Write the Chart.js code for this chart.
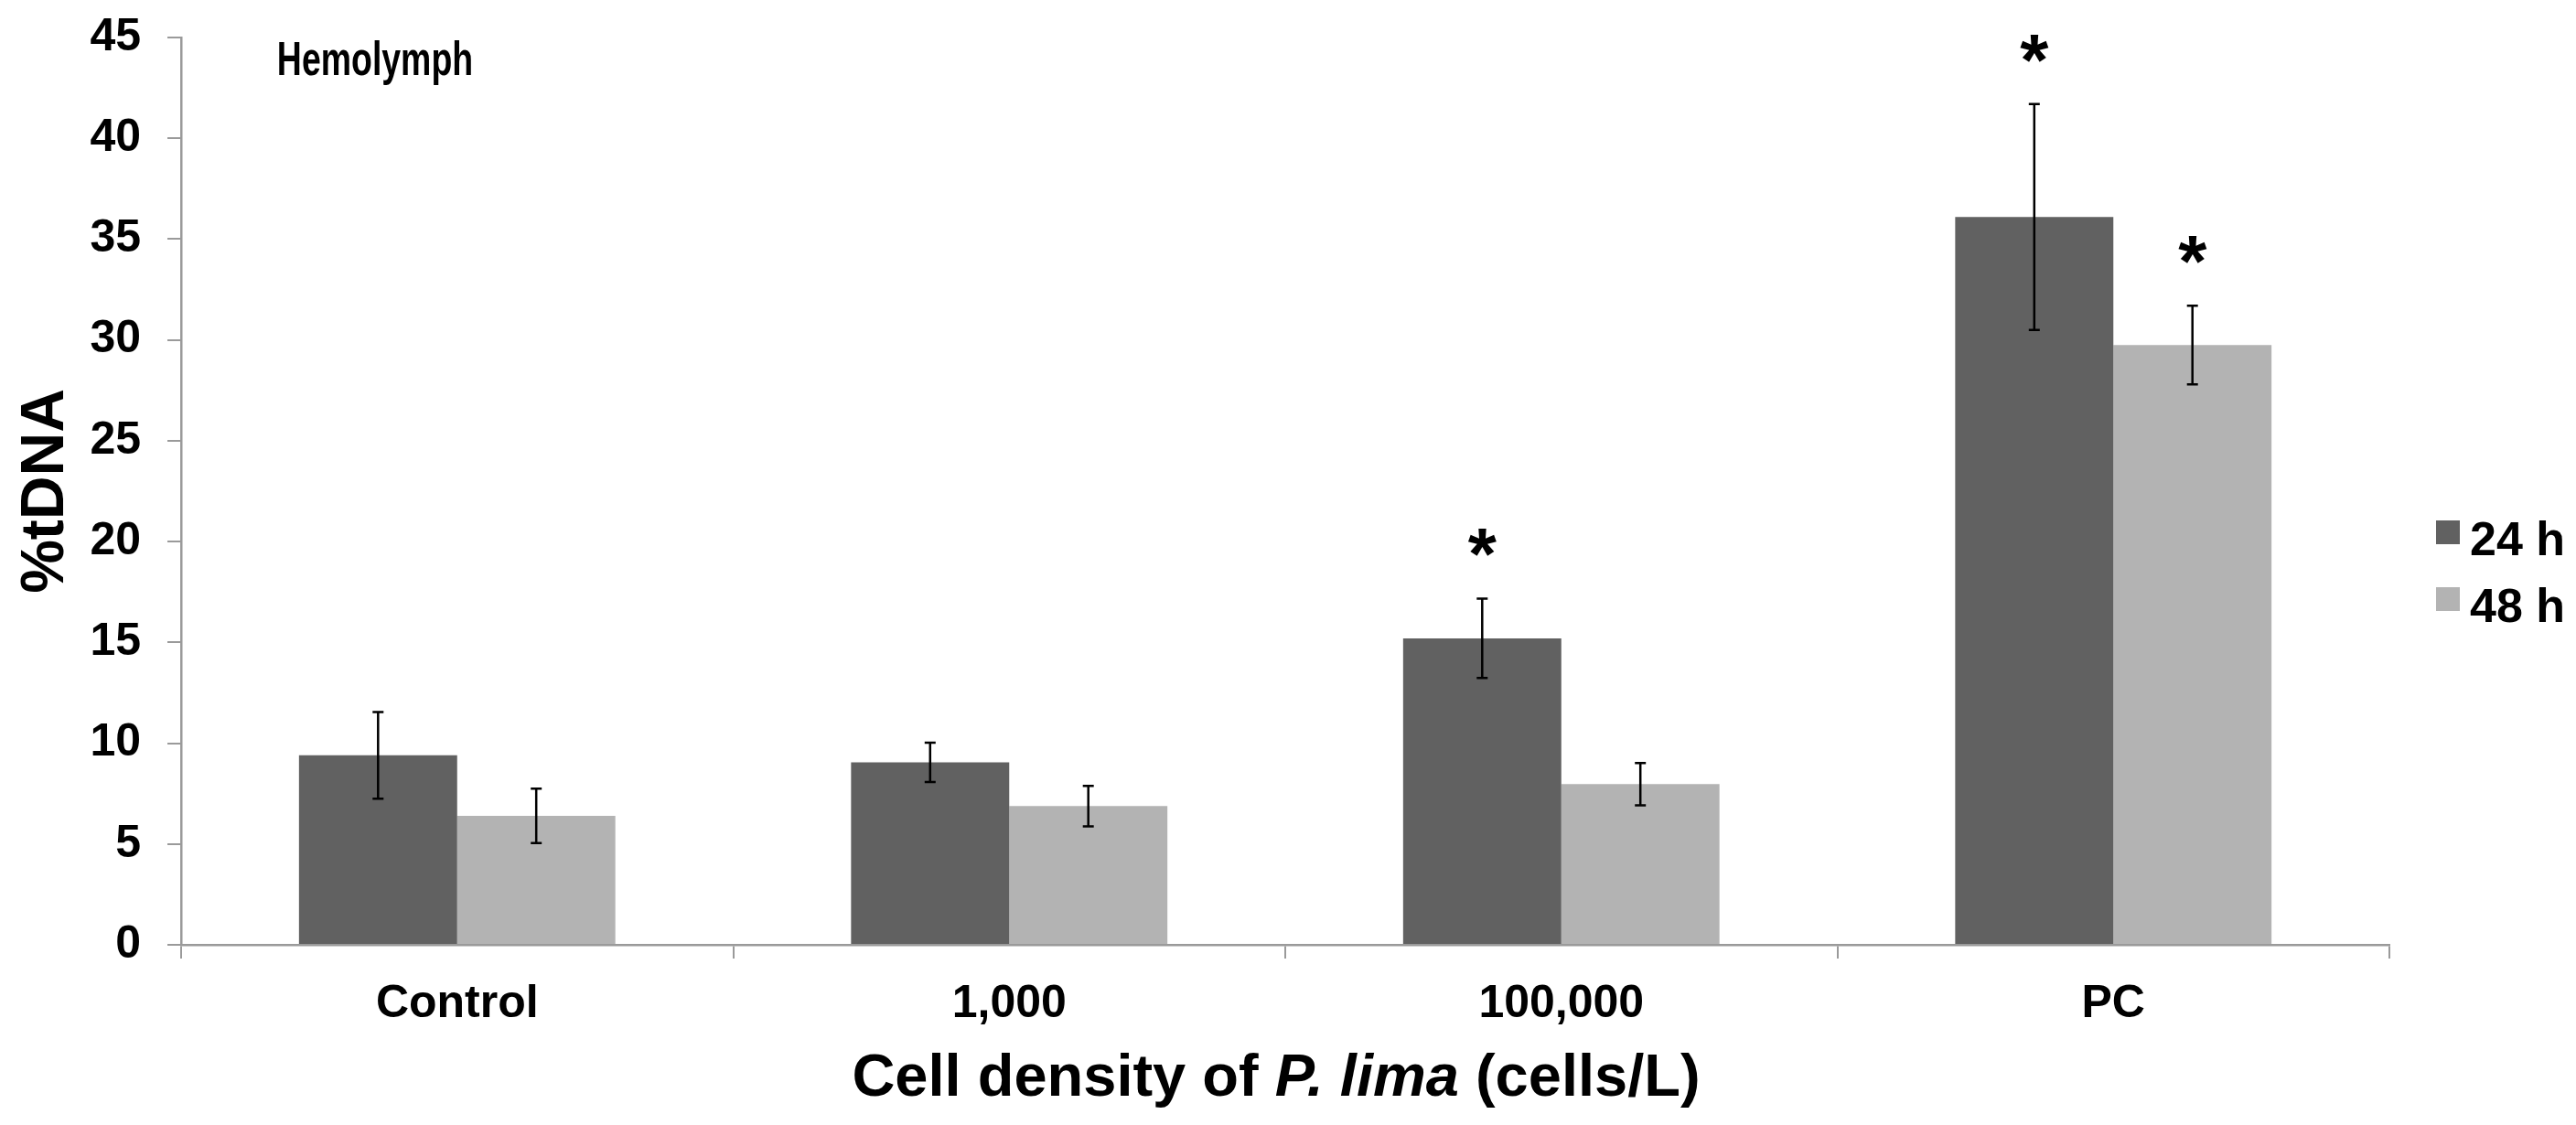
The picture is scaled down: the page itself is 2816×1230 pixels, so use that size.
<!DOCTYPE html>
<html>
<head>
<meta charset="utf-8">
<title>Hemolymph %tDNA</title>
<script src="https://cdn.jsdelivr.net/npm/chart.js@4.4.1/dist/chart.umd.min.js"></script>
<style>
  html, body { margin: 0; padding: 0; background: #fff; }
  #wrap { width: 2816px; height: 1230px; }
</style>
</head>
<body>
<div id="wrap"><canvas id="chart" width="2816" height="1230"></canvas></div>
<script>
// data
const categories = ['Control', '1,000', '100,000', 'PC'];
const seriesLabels = ['24 h', '48 h'];
const mean24 = [9.4, 9.05, 15.2, 36.1];
const mean48 = [6.4, 6.88, 7.97, 29.75];
const sd24 = [2.15, 0.97, 1.97, 5.6];
const sd48 = [1.35, 1.0, 1.05, 1.95];
const sig24 = [false, false, true, true];
const sig48 = [false, false, false, true];
const yMin = 0, yMax = 45, yStep = 5;

const FONT = "'Liberation Sans', Arial, Helvetica, sans-serif";
const AXIS_GREY = '#9a9a9a';

// error bars + significance stars
const errorBars = {
    id: 'errorBars',
    afterDatasetsDraw(chart) {
        const ctx = chart.ctx;
        const yScale = chart.scales.y;
        ctx.save();
        ctx.strokeStyle = '#000';
        ctx.lineWidth = 2.5;
        chart.data.datasets.forEach((ds, i) => {
            const meta = chart.getDatasetMeta(i);
            meta.data.forEach((bar, j) => {
                const v = ds.data[j];
                const e = ds.errors[j];
                const top = yScale.getPixelForValue(v + e);
                const bot = yScale.getPixelForValue(v - e);
                ctx.beginPath();
                ctx.moveTo(bar.x, top);
                ctx.lineTo(bar.x, bot);
                ctx.moveTo(bar.x - 6, top);
                ctx.lineTo(bar.x + 6, top);
                ctx.moveTo(bar.x - 6, bot);
                ctx.lineTo(bar.x + 6, bot);
                ctx.stroke();
                if (ds.stars[j]) {
                    ctx.fillStyle = '#000';
                    ctx.font = 'bold 80px ' + FONT;
                    ctx.textAlign = 'center';
                    ctx.textBaseline = 'alphabetic';
                    ctx.fillText('*', bar.x, top - 65 + 44);
                }
            });
        });
        ctx.restore();
    }
};

// title, x axis title with italic species name, legend on the right
const decorations = {
    id: 'decorations',
    afterDraw(chart) {
        const ctx = chart.ctx;
        const area = chart.chartArea;
        ctx.save();
        ctx.fillStyle = '#000';

        // chart title (narrow in the original)
        ctx.save();
        ctx.translate(410, 68);
        ctx.scale(0.72, 1);
        ctx.font = 'bold 52px ' + FONT;
        ctx.textAlign = 'center';
        ctx.textBaseline = 'middle';
        ctx.fillText('Hemolymph', 0, 0);
        ctx.restore();

        const parts = [
            ['Cell density of ', 'bold 65px ' + FONT],
            ['P. lima', 'italic bold 65px ' + FONT],
            [' (cells/L)', 'bold 65px ' + FONT]
        ];
        let total = 0;
        parts.forEach(p => { ctx.font = p[1]; total += ctx.measureText(p[0]).width; });
        let x = (area.left + area.right) / 2 - 10 - total / 2;
        ctx.textAlign = 'left';
        ctx.textBaseline = 'alphabetic';
        parts.forEach(p => {
            ctx.font = p[1];
            ctx.fillText(p[0], x, 1198);
            x += ctx.measureText(p[0]).width;
        });

        ctx.font = 'bold 52px ' + FONT;
        chart.data.datasets.forEach((ds, i) => {
            const top = 569 + i * 73;
            ctx.fillStyle = ds.backgroundColor;
            ctx.fillRect(area.right + 51, top, 26, 26);
            ctx.fillStyle = '#000';
            ctx.fillText(ds.label, area.right + 88, top + 38);
        });
        ctx.restore();
    }
};

const ctx = document.getElementById('chart').getContext('2d');
new Chart(ctx, {
    type: 'bar',
    data: {
        labels: categories,
        datasets: [{
            label: seriesLabels[0],
            data: mean24,
            errors: sd24,
            stars: sig24,
            backgroundColor: '#616161',
            categoryPercentage: 0.573,
            barPercentage: 1.0
        }, {
            label: seriesLabels[1],
            data: mean48,
            errors: sd48,
            stars: sig48,
            backgroundColor: '#b3b3b3',
            categoryPercentage: 0.573,
            barPercentage: 1.0
        }]
    },
    options: {
        responsive: false,
        animation: false,
        devicePixelRatio: 1,
        layout: {
            padding: { top: 41, right: 204, bottom: 0, left: 0 }
        },
        plugins: {
            legend: { display: false },
            tooltip: { enabled: false }
        },
        scales: {
            x: {
                afterFit: (scale) => {
                    scale.height = 197;
                    scale.paddingLeft = 0;
                    scale.paddingRight = 0;
                },
                grid: {
                    offset: true,
                    drawOnChartArea: false,
                    drawTicks: true,
                    tickLength: 15,
                    color: AXIS_GREY,
                    lineWidth: 2
                },
                border: { color: AXIS_GREY, width: 2.5 },
                ticks: {
                    color: '#000',
                    padding: 20,
                    font: { family: FONT, size: 50, weight: 'bold' }
                }
            },
            y: {
                min: yMin,
                max: yMax,
                afterFit: (scale) => {
                    scale.width = 198;
                    scale.paddingTop = 0;
                    scale.paddingBottom = 0;
                },
                grid: {
                    drawOnChartArea: false,
                    drawTicks: true,
                    tickLength: 15,
                    color: AXIS_GREY,
                    lineWidth: 2
                },
                border: { color: AXIS_GREY, width: 2.5 },
                ticks: {
                    stepSize: yStep,
                    color: '#000',
                    padding: 29,
                    font: { family: FONT, size: 50, weight: 'bold' }
                },
                title: {
                    display: true,
                    text: '%tDNA',
                    color: '#000',
                    padding: { top: 11, bottom: 0 },
                    font: { family: FONT, size: 66, weight: 'bold' }
                }
            }
        }
    },
    plugins: [errorBars, decorations]
});
</script>
</body>
</html>
